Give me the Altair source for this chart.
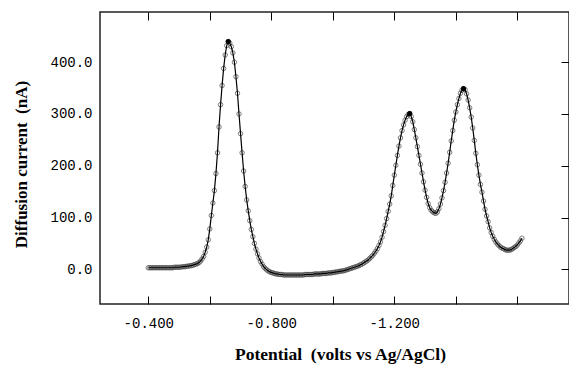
import altair as alt
import pandas as pd

# Potential (mV, magnitude; plotted as negative volts)
POTENTIAL_MV = [
    400, 405, 410, 415, 420, 425, 430, 435, 440, 445,
    450, 455, 460, 465, 470, 475, 480, 485, 490, 495,
    500, 505, 510, 515, 520, 525, 530, 535, 540, 545,
    550, 555, 560, 565, 570, 575, 580, 585, 590, 595,
    600, 605, 610, 615, 620, 625, 630, 635, 640, 645,
    650, 655, 660, 665, 670, 675, 680, 685, 690, 695,
    700, 705, 710, 715, 720, 725, 730, 735, 740, 745,
    750, 755, 760, 765, 770, 775, 780, 785, 790, 795,
    800, 805, 810, 815, 820, 825, 830, 835, 840, 845,
    850, 855, 860, 865, 870, 875, 880, 885, 890, 895,
    900, 905, 910, 915, 920, 925, 930, 935, 940, 945,
    950, 955, 960, 965, 970, 975, 980, 985, 990, 995,
    1000, 1005, 1010, 1015, 1020, 1025, 1030, 1035, 1040, 1045,
    1050, 1055, 1060, 1065, 1070, 1075, 1080, 1085, 1090, 1095,
    1100, 1105, 1110, 1115, 1120, 1125, 1130, 1135, 1140, 1145,
    1150, 1155, 1160, 1165, 1170, 1175, 1180, 1185, 1190, 1195,
    1200, 1205, 1210, 1215, 1220, 1225, 1230, 1235, 1240, 1245,
    1250, 1255, 1260, 1265, 1270, 1275, 1280, 1285, 1290, 1295,
    1300, 1305, 1310, 1315, 1320, 1325, 1330, 1335, 1340, 1345,
    1350, 1355, 1360, 1365, 1370, 1375, 1380, 1385, 1390, 1395,
    1400, 1405, 1410, 1415, 1420, 1425, 1430, 1435, 1440, 1445,
    1450, 1455, 1460, 1465, 1470, 1475, 1480, 1485, 1490, 1495,
    1500, 1505, 1510, 1515, 1520, 1525, 1530, 1535, 1540, 1545,
    1550, 1555, 1560, 1565, 1570, 1575, 1580, 1585, 1590, 1595,
    1600, 1605, 1610, 1615,
]

# Diffusion current (nA)
CURRENT_NA = [
    3, 3, 3, 3, 3, 3, 3, 3, 3, 3,
    3, 3, 3, 3, 3, 3, 3, 4, 4, 4,
    4, 4, 5, 5, 5, 6, 6, 7, 7, 8,
    9, 10, 11, 13, 16, 20, 25, 33, 43, 57,
    78, 104, 128, 152, 185, 225, 275, 318, 355, 388,
    414, 432, 440, 437, 430, 418, 400, 372, 340, 300,
    262, 225, 190, 160, 134, 113, 94, 77, 63, 50,
    39, 30, 22, 15, 10, 5, 2, -1, -3, -5,
    -6, -7, -8, -9, -9, -10, -10, -10, -11, -11,
    -11, -11, -11, -11, -11, -11, -11, -11, -11, -11,
    -11, -11, -10, -10, -10, -10, -10, -10, -9, -9,
    -9, -9, -9, -8, -8, -8, -8, -7, -7, -7,
    -6, -6, -5, -5, -4, -4, -3, -3, -2, -1,
    0, 1, 2, 3, 4, 5, 6, 7, 9, 10,
    12, 14, 16, 18, 21, 24, 27, 31, 35, 40,
    46, 53, 62, 73, 85, 98, 112, 126, 142, 162,
    182, 201, 220, 238, 254, 268, 279, 288, 295, 299,
    301, 295, 285, 270, 254, 237, 220, 203, 186, 169,
    153, 139, 127, 119, 114, 111, 109, 108, 111, 117,
    126, 138, 152, 168, 186, 205, 226, 248, 268, 288,
    304, 318, 330, 340, 346, 349, 347, 339, 327, 312,
    294, 273, 249, 224, 202, 182, 164, 149, 132, 116,
    103, 92, 80, 71, 64, 58, 53, 49, 46, 43,
    41, 40, 38, 37, 37, 37, 38, 40, 42, 44,
    47, 51, 55, 60,
]

PEAK_MV = [660, 1250, 1425]
PEAK_NA = [440, 301, 349]

X_TICKS = [-0.4, -0.6, -0.8, -1.0, -1.2, -1.4, -1.6]
X_LABELED = [-0.4, -0.8, -1.2]
Y_TICKS = [0, 100, 200, 300, 400]

df = pd.DataFrame({"pot": [-v / 1000 for v in POTENTIAL_MV], "cur": CURRENT_NA})
pk = pd.DataFrame({"pot": [-v / 1000 for v in PEAK_MV], "cur": PEAK_NA})

xs = alt.Scale(domain=[-1.768, -0.243], reverse=True, nice=False, zero=False)
ys = alt.Scale(domain=[-67, 497], nice=False, zero=False)

MONO = "Liberation Mono"
SERIF = "Liberation Serif"

ax_bottom_labels = alt.Axis(
    orient="bottom", values=X_LABELED,
    labelExpr="'-' + format(abs(datum.value), '.3f')",
    ticks=False, tickSize=0, domain=False, grid=False,
    labelFont=MONO, labelFontSize=14, labelColor="black", labelPadding=12,
    title="Potential\u00a0 (volts vs Ag/AgCl)", titleFont=SERIF,
    titleFontWeight="bold", titleFontSize=17.5, titleColor="black",
    titleX=240, titleY=50, titleAlign="center", titleBaseline="middle",
)
ax_bottom_ticks = alt.Axis(
    orient="bottom", values=X_TICKS, labels=False, ticks=True, tickSize=8,
    offset=-8, domain=False, grid=False, tickColor="black", tickWidth=1,
    title=None,
)
ax_top_ticks = alt.Axis(
    orient="top", values=X_TICKS, labels=False, ticks=True, tickSize=8,
    offset=-8, domain=False, grid=False, tickColor="black", tickWidth=1,
    title=None,
)
ax_left = alt.Axis(
    orient="left", values=Y_TICKS, format=".1f", ticks=False, tickSize=0,
    domain=False, grid=False, labelFont=MONO, labelFontSize=14,
    labelColor="black", labelPadding=8,
    title="Diffusion current\u00a0 (nA)", titleFont=SERIF,
    titleFontWeight="bold", titleFontSize=17, titleColor="black",
    titleX=-79, titleY=152, titleAlign="center", titleBaseline="middle",
)
ax_right = alt.Axis(
    orient="right", values=Y_TICKS, labels=False, ticks=True, tickSize=8,
    offset=-8, domain=False, grid=False, tickColor="black", tickWidth=1,
    title=None,
)

pts = alt.Chart(df).mark_point(
    shape="circle", filled=False, size=20, color="#333333", strokeWidth=0.9
).encode(
    x=alt.X("pot:Q", scale=xs, axis=ax_bottom_ticks),
    y=alt.Y("cur:Q", scale=ys, axis=ax_right),
)

line = alt.Chart(df).mark_line(color="black", strokeWidth=1.2).encode(
    x=alt.X("pot:Q", scale=xs, axis=ax_bottom_labels),
    y=alt.Y("cur:Q", scale=ys, axis=ax_left),
)

pks = alt.Chart(pk).mark_circle(size=26, color="black", opacity=1).encode(
    x=alt.X("pot:Q", scale=xs, axis=ax_top_ticks),
    y=alt.Y("cur:Q", scale=ys, axis=None),
)

chart = (
    alt.layer(pts, line, pks)
    .resolve_axis(x="independent", y="independent")
    .properties(
        width=469, height=292,
        padding={"left": 100, "top": 12, "right": 0, "bottom": 62},
        autosize=alt.AutoSizeParams(type="none"),
        background="white",
    )
    .configure_view(stroke="#222222", strokeWidth=1.5)
)

chart.save("out.html", embed_options={"renderer": "svg", "actions": False})
